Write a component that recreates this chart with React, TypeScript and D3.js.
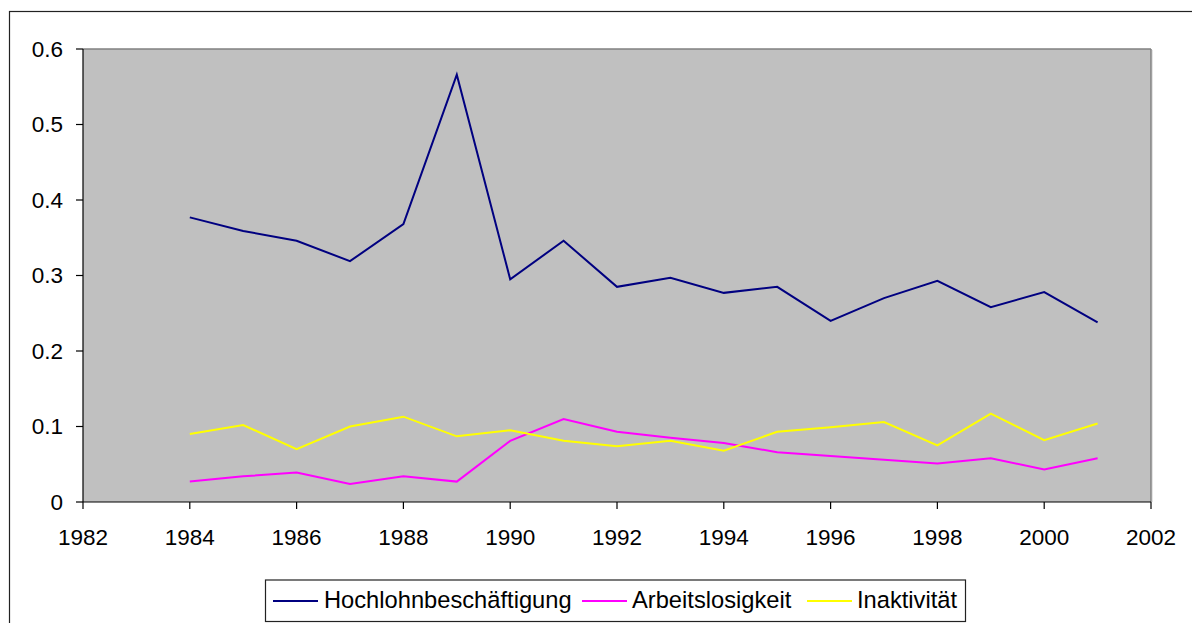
import React from "react";
import * as d3 from "d3";

const years = [1984, 1985, 1986, 1987, 1988, 1989, 1990, 1991, 1992, 1993, 1994, 1995, 1996, 1997, 1998, 1999, 2000, 2001];
const hochlohn = [0.377, 0.359, 0.346, 0.319, 0.368, 0.566, 0.295, 0.346, 0.285, 0.297, 0.277, 0.285, 0.240, 0.270, 0.293, 0.258, 0.278, 0.238];
const arbeitslos = [0.027, 0.034, 0.039, 0.024, 0.034, 0.027, 0.081, 0.110, 0.093, 0.085, 0.078, 0.066, 0.061, 0.056, 0.051, 0.058, 0.043, 0.058];
const inaktiv = [0.090, 0.102, 0.070, 0.100, 0.113, 0.087, 0.095, 0.081, 0.074, 0.081, 0.068, 0.093, 0.099, 0.106, 0.075, 0.117, 0.082, 0.104];
const xTicks = [1982, 1984, 1986, 1988, 1990, 1992, 1994, 1996, 1998, 2000, 2002];
const yTicks = [0, 0.1, 0.2, 0.3, 0.4, 0.5, 0.6];
const seriesNames = ["Hochlohnbeschäftigung", "Arbeitslosigkeit", "Inaktivität"];
const seriesColors = ["#000080", "#FF00FF", "#FFFF00"];
const seriesValues = [hochlohn, arbeitslos, inaktiv];

export default function App() {
  const W = 1192, H = 623;
  const left = 83, right = 1151, top = 49, bottom = 502;
  const x = d3.scaleLinear().domain([1982, 2002]).range([left, right]);
  const y = d3.scaleLinear().domain([0, 0.6]).range([bottom, top]);
  const font = "'Liberation Sans', Arial, sans-serif";

  const line = (vals: number[]) =>
    d3.line<number>().x((_, i) => x(years[i])).y((v) => y(v))(vals) || "";

  const legendItems = [
    { lx: 273, tx: 324 },
    { lx: 582, tx: 632 },
    { lx: 807, tx: 857 },
  ];

  return (
    <svg width={W} height={H} style={{ position: "absolute", left: 0, top: 0, background: "#fff" }}>
      <rect x={9.5} y={11.5} width={1300} height={1000} fill="#fff" stroke="#222" strokeWidth={1.2} />
      <rect x={left} y={top} width={right - left} height={bottom - top} fill="#C0C0C0" />
      <line x1={left} y1={top} x2={right} y2={top} stroke="#808080" strokeWidth={1.5} />
      <line x1={right} y1={top} x2={right} y2={bottom} stroke="#808080" strokeWidth={1.5} />
      <line x1={right + 1.5} y1={top + 1} x2={right + 1.5} y2={bottom} stroke="#e4e4e4" strokeWidth={1} />
      {seriesValues.map((vals, i) => (
        <path key={i} d={line(vals)} fill="none" stroke={seriesColors[i]} strokeWidth={2} strokeLinejoin="miter" />
      ))}
      <line x1={left} y1={top} x2={left} y2={bottom} stroke="#000" strokeWidth={1.2} />
      <line x1={left} y1={bottom} x2={right} y2={bottom} stroke="#000" strokeWidth={1.2} />
      {yTicks.map((t) => (
        <g key={t}>
          <line x1={left - 7} x2={left} y1={y(t)} y2={y(t)} stroke="#000" strokeWidth={1.2} />
          <text x={63} y={y(t) + 7.5} textAnchor="end" fontFamily={font} fontSize={22.5} fill="#000">
            {t === 0 ? "0" : d3.format(".1f")(t)}
          </text>
        </g>
      ))}
      {xTicks.map((t) => (
        <g key={t}>
          <line x1={x(t)} x2={x(t)} y1={bottom} y2={bottom + 7} stroke="#000" strokeWidth={1.2} />
          <text x={x(t)} y={545} textAnchor="middle" fontFamily={font} fontSize={22.5} fill="#000">
            {t}
          </text>
        </g>
      ))}
      <rect x={265.5} y={580} width={700} height={41.5} fill="#fff" stroke="#222" strokeWidth={1.2} />
      {legendItems.map((it, i) => (
        <g key={i}>
          <line x1={it.lx} x2={it.lx + 45} y1={601} y2={601} stroke={seriesColors[i]} strokeWidth={2} />
          <text x={it.tx} y={607.5} fontFamily={font} fontSize={23.7} fill="#000">
            {seriesNames[i]}
          </text>
        </g>
      ))}
    </svg>
  );
}
